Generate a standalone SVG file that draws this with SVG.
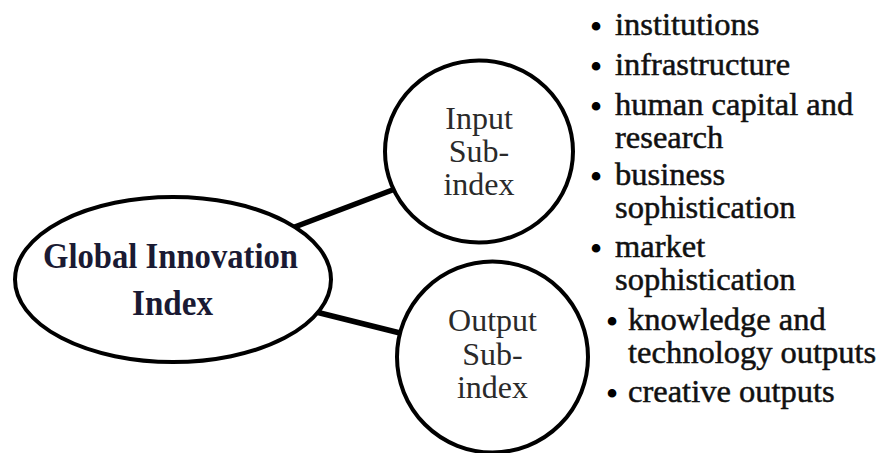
<svg xmlns="http://www.w3.org/2000/svg" width="879" height="453" viewBox="0 0 879 453">
<style>
.shape{fill:#fff;stroke:#000;stroke-width:4}
.conn{stroke:#000;stroke-width:5.5;stroke-linecap:butt}
.title{font-family:"Liberation Serif","Times New Roman",serif;font-weight:bold;font-size:36px;fill:#1a1a33;text-anchor:middle}
.sub{font-family:"Liberation Serif","Times New Roman",serif;font-size:32px;fill:#2a2a2a;text-anchor:middle}
.item{font-family:"Liberation Serif","Times New Roman",serif;font-size:32.5px;fill:#111;stroke:#111;stroke-width:0.5}
.bul{font-family:"Liberation Serif","Times New Roman",serif;font-size:36px;fill:#000;text-anchor:middle}
</style>
<rect width="879" height="453" fill="#fff"/>
<g id="connectors">
<line class="conn" x1="290" y1="228.8" x2="393" y2="189.7"/>
<line class="conn" x1="312" y1="311" x2="404" y2="334"/>
</g>
<g id="global-innovation-index">
<ellipse class="shape" cx="173" cy="279.5" rx="158" ry="82.5"/>
<text class="title" x="170.5" y="268" textLength="255" lengthAdjust="spacingAndGlyphs">Global Innovation</text>
<text class="title" x="172.5" y="315" textLength="81" lengthAdjust="spacingAndGlyphs">Index</text>
</g>
<g id="input-sub-index">
<ellipse class="shape" cx="479" cy="151.5" rx="94" ry="91"/>
<text class="sub" x="479" y="129">Input</text>
<text class="sub" x="479" y="162">Sub-</text>
<text class="sub" x="479" y="195">index</text>
</g>
<g id="output-sub-index">
<circle class="shape" cx="492.5" cy="357" r="95.5"/>
<text class="sub" x="492.5" y="331">Output</text>
<text class="sub" x="492.5" y="365">Sub-</text>
<text class="sub" x="492.5" y="398">index</text>
</g>
<g id="components-list">
<text class="bul" x="596" y="39">•</text>
<text class="item" x="615" y="35">institutions</text>
<text class="bul" x="596" y="79">•</text>
<text class="item" x="615" y="75">infrastructure</text>
<text class="bul" x="596" y="119">•</text>
<text class="item" x="615" y="115">human capital and</text>
<text class="item" x="615" y="148">research</text>
<text class="bul" x="596" y="189">•</text>
<text class="item" x="615" y="185">business</text>
<text class="item" x="615" y="218">sophistication</text>
<text class="bul" x="596" y="261">•</text>
<text class="item" x="615" y="257">market</text>
<text class="item" x="615" y="290">sophistication</text>
<text class="bul" x="612" y="334">•</text>
<text class="item" x="628" y="330">knowledge and</text>
<text class="item" x="628" y="363">technology outputs</text>
<text class="bul" x="612" y="406">•</text>
<text class="item" x="628" y="402">creative outputs</text>
</g>
</svg>
